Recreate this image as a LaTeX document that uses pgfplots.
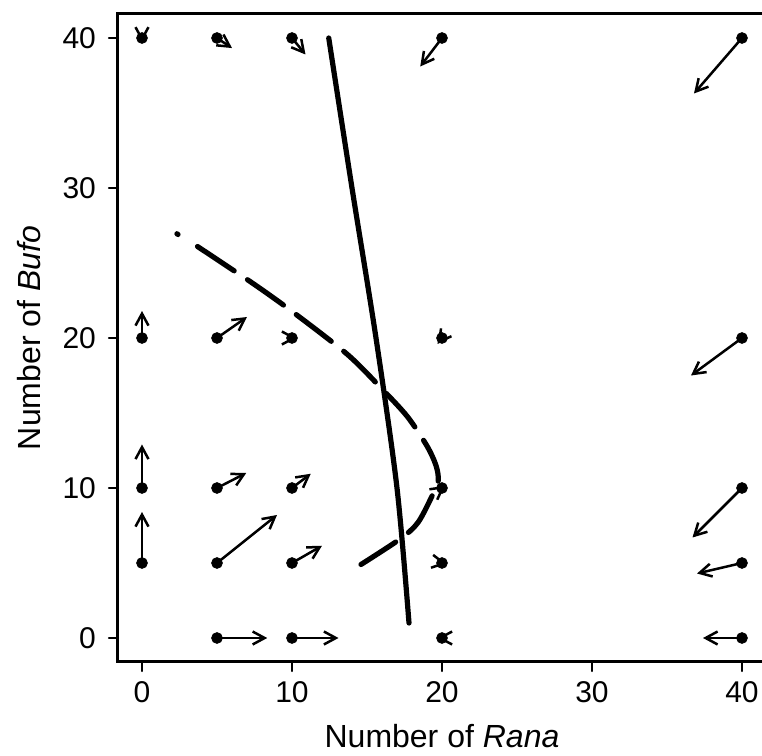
\documentclass[border=0pt]{standalone}
\usepackage{fontspec}
\setmainfont{Liberation Sans}
\usepackage{pgfplots}
\pgfplotsset{compat=1.18}
\usetikzlibrary{arrows.meta}
\pgfplotstableread{
x y u v
0 40 0 -0.25
5 40 1.0 -0.67
10 40 0.9 -1.1
20 40 -1.45 -1.9
40 40 -3.2 -3.7
0 20 0 1.8
5 20 2.0 1.4
10 20 0.3 0
20 20 -0.3 -0.4
40 20 -3.4 -2.5
0 10 0 2.9
5 10 1.95 1.0
10 10 1.25 0.95
20 10 0.2 0.15
40 10 -3.3 -3.3
0 5 0 3.4
5 5 4.0 3.2
10 5 2.0 1.15
20 5 0.3 -0.05
40 5 -3.0 -0.7
5 0 3.35 0
10 0 3.1 0
20 0 -0.3 0
40 0 -2.6 0
}\vectors
\begin{document}
\begin{tikzpicture}
\begin{axis}[
  x=7.5pt, y=7.5pt,
  xmin=-1.6, xmax=41.6, ymin=-1.6, ymax=41.6,
  axis line style={line width=1.5pt},
  xtick={0,10,20,30,40}, ytick={0,10,20,30,40},
  tick align=outside, xtick pos=bottom, ytick pos=left,
  major tick length=4.5pt,
  tick style={line width=1.2pt, black},
  tick label style={font=\fontsize{15}{17}\selectfont},
  yticklabel style={xshift=-3pt},
  xticklabel style={yshift=-1.5pt},
  /pgf/number format/assume math mode=true,
  xlabel={Number of \textit{Rana}},
  ylabel={Number of \textit{Bufo}},
  label style={font=\fontsize{16}{18}\selectfont},
  xlabel shift=4pt,
  ylabel shift=4pt,
  line cap=round,
]
\addplot[black, line width=1.25pt,
  quiver={u=\thisrow{u}, v=\thisrow{v},
    every arrow/.append style={-{Straight Barb[length=6pt,width=6.5pt]}}}]
  table[x=x,y=y] {\vectors};
\addplot[only marks, mark=*, mark size=2.7pt, black] table[x=x,y=y] {\vectors};
\addplot[black, line width=2.6pt, smooth] coordinates {
(12.45,40) (14.0,30) (15.6,20) (17.0,10) (17.8,1.0)};
\addplot[black, line width=2.6pt] coordinates {(2.33,26.95) (2.4,26.9)};
\addplot[black, line width=2.6pt, dash pattern=on 22pt off 8pt, smooth] coordinates {
(3.7,26.1) (7.45,23.6) (10.1,21.7) (13.7,18.9) (16.0,16.6) (17.7,14.75) (19.0,12.8) (19.6,11.5) (19.75,10.5) (19.4,9.6) (18.4,7.7) (17.2,6.6) (14.6,4.9)};
\end{axis}
\pgfresetboundingbox
\path[use as bounding box] (current axis.south west) ++(-59pt,-47pt) rectangle ++(381pt,378pt);
\end{tikzpicture}
\end{document}
